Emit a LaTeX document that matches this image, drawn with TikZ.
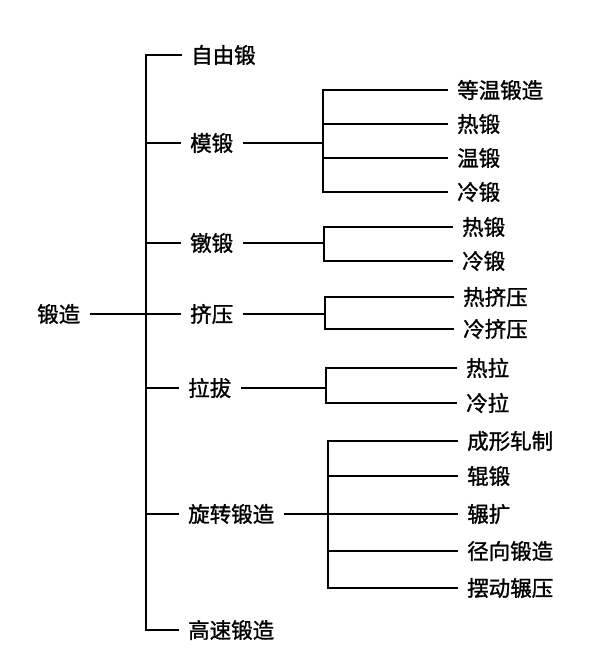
\documentclass[tikz,border=0pt]{standalone}
\usepackage{fontspec}
\setmainfont[AutoFakeBold=1.2]{Noto Sans CJK SC}
\begin{document}
\begin{tikzpicture}[x=1pt,y=-1pt,
  lab/.style={anchor=west,inner xsep=10pt,inner ysep=2pt,font=\fontsize{21.5}{25}\selectfont\bfseries},
  ln/.style={line width=1.8pt,line cap=rect}]
\useasboundingbox (0,0) rectangle (611,657);
% root
\node[lab] (root) at (27,314) {锻造};
% first level
\node[lab] (b1) at (181,55) {自由锻};
\node[lab] (b2) at (180,143) {模锻};
\node[lab] (b3) at (180,243) {镦锻};
\node[lab] (b4) at (180,314) {挤压};
\node[lab] (b5) at (178,388) {拉拔};
\node[lab] (b6) at (178,514) {旋转锻造};
\node[lab] (b7) at (178,630) {高速锻造};
% leaves of 模锻
\node[lab] (l21) at (447,90) {等温锻造};
\node[lab] (l22) at (447,124) {热锻};
\node[lab] (l23) at (447,158) {温锻};
\node[lab] (l24) at (447,192) {冷锻};
% leaves of 镦锻
\node[lab] (l31) at (452,227) {热锻};
\node[lab] (l32) at (452,261) {冷锻};
% leaves of 挤压
\node[lab] (l41) at (453,297) {热挤压};
\node[lab] (l42) at (453,329) {冷挤压};
% leaves of 拉拔
\node[lab] (l51) at (456,368) {热拉};
\node[lab] (l52) at (456,403) {冷拉};
% leaves of 旋转锻造
\node[lab] (l61) at (457,441) {成形轧制};
\node[lab] (l62) at (457,476) {辊锻};
\node[lab] (l63) at (457,514) {辗扩};
\node[lab] (l64) at (457,551) {径向锻造};
\node[lab] (l65) at (457,588) {摆动辗压};
% junction columns
\coordinate (T) at (146,0);
\coordinate (S2) at (323,0);
\coordinate (S3) at (324,0);
\coordinate (S4) at (325,0);
\coordinate (S5) at (326,0);
\coordinate (S6) at (328,0);
% trunk
\draw[ln] (root.east) -- (T|-root.east);
\draw[ln] (T|-b1.west) -- (T|-b7.west);
\foreach \b in {b1,b2,b3,b4,b5,b6,b7} \draw[ln] (T|-\b.west) -- (\b.west);
% 模锻
\draw[ln] (b2.east) -- (S2|-b2.east);
\draw[ln] (S2|-l21.west) -- (S2|-l24.west);
\foreach \l in {l21,l22,l23,l24} \draw[ln] (S2|-\l.west) -- (\l.west);
% 镦锻
\draw[ln] (b3.east) -- (S3|-b3.east);
\draw[ln] (S3|-l31.west) -- (S3|-l32.west);
\foreach \l in {l31,l32} \draw[ln] (S3|-\l.west) -- (\l.west);
% 挤压
\draw[ln] (b4.east) -- (S4|-b4.east);
\draw[ln] (S4|-l41.west) -- (S4|-l42.west);
\foreach \l in {l41,l42} \draw[ln] (S4|-\l.west) -- (\l.west);
% 拉拔
\draw[ln] (b5.east) -- (S5|-b5.east);
\draw[ln] (S5|-l51.west) -- (S5|-l52.west);
\foreach \l in {l51,l52} \draw[ln] (S5|-\l.west) -- (\l.west);
% 旋转锻造
\draw[ln] (b6.east) -- (l63.west);
\draw[ln] (S6|-l61.west) -- (S6|-l65.west);
\foreach \l in {l61,l62,l64,l65} \draw[ln] (S6|-\l.west) -- (\l.west);
\end{tikzpicture}
\end{document}
